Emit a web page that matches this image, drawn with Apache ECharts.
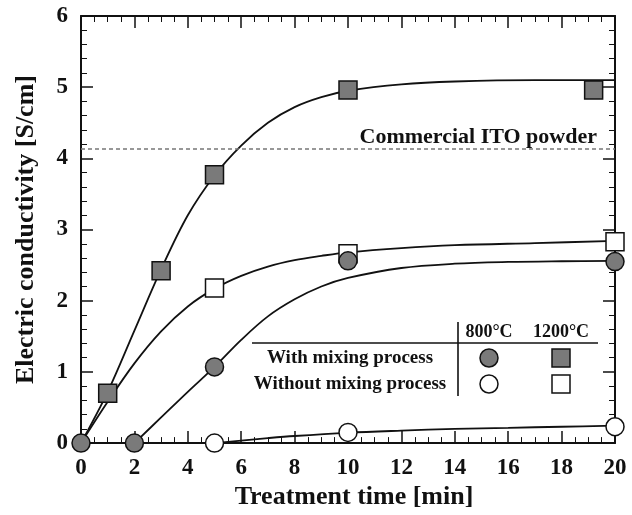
<!DOCTYPE html>
<html>
<head>
<meta charset="utf-8">
<script src="https://cdn.jsdelivr.net/npm/echarts@6/dist/echarts.min.js"></script>
<style>
  html, body { margin: 0; padding: 0; background: #fff; }
  #chart { width: 632px; height: 515px; }
</style>
</head>
<body>
<div id="chart"></div>
<script>
// measured points [time (min), conductivity (S/cm)]
const circ800Mix = [[0, 0], [2, 0], [5, 1.07], [10, 2.56], [20, 2.55]]
const circ800NoMix = [[5, 0], [10, 0.15], [20, 0.23]]
const sq1200Mix = [[1, 0.7], [3, 2.42], [5, 3.77], [10, 4.96], [19.2, 4.96]]
const sq1200NoMix = [[5, 2.18], [10, 2.66], [20, 2.83]]

// fitted curves (flat parts before the rise sit on the x axis)
const fit1200Mix = [[0, 0], [1, 0.72], [2, 1.58], [3, 2.44], [4, 3.2], [5, 3.76], [6, 4.18], [7, 4.5],
  [8, 4.72], [9, 4.86], [10, 4.95], [12, 5.04], [14, 5.08], [17, 5.1], [20, 5.1]]
const fit1200NoMix = [[0, 0], [1, 0.58], [2, 1.12], [3, 1.57], [4, 1.92], [5, 2.17], [6, 2.35], [7, 2.48],
  [8, 2.57], [9, 2.63], [10, 2.68], [12, 2.74], [14, 2.78], [17, 2.81], [20, 2.84]]
const fit800Mix = [[0, 0], [2, 0], [3, 0.36], [4, 0.72], [5, 1.07], [6, 1.45], [7, 1.78], [8, 2.02],
  [9, 2.2], [10, 2.32], [12, 2.46], [14, 2.52], [16, 2.545], [18, 2.555], [20, 2.56]]
const fit800NoMix = [[0, 0], [5, 0], [6, 0.035], [7, 0.07], [8, 0.1], [10, 0.145], [12, 0.175],
  [14, 0.2], [16, 0.215], [18, 0.23], [20, 0.245]]

const itoLevel = 4.13
const itoLabel = 'Commercial ITO powder'
const rowLabels = ['With mixing process', 'Without mixing process']
const colLabels = ['800°C', '1200°C']

const SERIF = '"Liberation Serif", "DejaVu Serif", serif'
const GRAY = '#7a7a7a'
const INK = '#111'

const chart = echarts.init(document.getElementById('chart'))

// split a fitted curve into the flat run on the axis (straight) and the rising part (smoothed)
function curve(data, extra) {
  let k = 0
  while (k + 1 < data.length && data[k + 1][1] === 0) k++
  const out = []
  if (k > 0) {
    out.push({
      type: 'line', data: data.slice(0, k + 1), showSymbol: false, silent: true, z: 2,
      lineStyle: { color: INK, width: 1.8 },
    })
  }
  out.push(Object.assign({
    type: 'line',
    data: data.slice(k),
    smooth: 0.35,
    showSymbol: false,
    silent: true,
    z: 2,
    lineStyle: { color: INK, width: 1.8 },
  }, extra || {}))
  return out
}

function dots(data, symbol, fill) {
  return {
    type: 'scatter',
    data: data,
    symbol: symbol,
    symbolSize: 18,
    clip: false,
    z: 4,
    itemStyle: { color: fill, borderColor: INK, borderWidth: 1.5, opacity: 1 },
  }
}

const axisCommon = {
  min: 0,
  axisLine: { show: true, onZero: false, lineStyle: { color: INK, width: 2 } },
  axisTick: { show: true, inside: true, length: 12, lineStyle: { color: INK, width: 1.5 } },
  minorTick: { show: true, length: 6, lineStyle: { color: INK, width: 1 } },
  splitLine: { show: false },
}

// legend table
const tblLeft = 252, tblRight = 598, tblRule = 343, tblDiv = 458
const colX = [489, 561], rowY = [358, 384], headY = 332
const legendEls = [
  { type: 'line', shape: { x1: tblLeft, y1: tblRule, x2: tblRight, y2: tblRule }, style: { stroke: INK, lineWidth: 1.6 } },
  { type: 'line', shape: { x1: tblDiv, y1: 322, x2: tblDiv, y2: 396 }, style: { stroke: INK, lineWidth: 1.6 } },
]
colLabels.forEach((t, i) => legendEls.push({
  type: 'text', x: colX[i], y: headY,
  style: { text: t, font: 'bold 18px ' + SERIF, fill: INK, align: 'center', verticalAlign: 'middle' },
}))
rowLabels.forEach((t, i) => legendEls.push({
  type: 'text', x: 350, y: rowY[i],
  style: { text: t, font: 'bold 19px ' + SERIF, fill: INK, align: 'center', verticalAlign: 'middle' },
}))
rowY.forEach((y, i) => {
  const fill = i === 0 ? GRAY : '#fff'
  legendEls.push({ type: 'circle', shape: { cx: colX[0], cy: y, r: 9 }, style: { fill: fill, stroke: INK, lineWidth: 1.5 } })
  legendEls.push({ type: 'rect', shape: { x: colX[1] - 9, y: y - 9, width: 18, height: 18 }, style: { fill: fill, stroke: INK, lineWidth: 1.5 } })
})

const option = {
  animation: false,
  backgroundColor: '#fff',
  grid: { left: 81, right: 17, top: 16, bottom: 71 },
  xAxis: [
    Object.assign({}, axisCommon, {
      type: 'value', max: 20, interval: 2, position: 'bottom',
      minorTick: Object.assign({}, axisCommon.minorTick, { splitNumber: 4 }),
      axisLabel: { fontFamily: SERIF, fontWeight: 'bold', fontSize: 23, color: INK, margin: 13 },
      name: 'Treatment time [min]', nameLocation: 'middle', nameGap: 38,
      nameTextStyle: { fontFamily: SERIF, fontWeight: 'bold', fontSize: 26, color: INK, padding: [0, 0, 0, 12] },
    }),
    Object.assign({}, axisCommon, {
      type: 'value', max: 20, interval: 2, position: 'top',
      minorTick: Object.assign({}, axisCommon.minorTick, { splitNumber: 4 }),
      axisLabel: { show: false },
    }),
  ],
  yAxis: [
    Object.assign({}, axisCommon, {
      type: 'value', max: 6, interval: 1, position: 'left',
      minorTick: Object.assign({}, axisCommon.minorTick, { splitNumber: 5 }),
      axisLabel: { fontFamily: SERIF, fontWeight: 'bold', fontSize: 23, color: INK, margin: 13 },
      name: 'Electric conductivity [S/cm]', nameLocation: 'middle', nameGap: 42,
      nameTextStyle: { fontFamily: SERIF, fontWeight: 'bold', fontSize: 26, color: INK },
    }),
    Object.assign({}, axisCommon, {
      type: 'value', max: 6, interval: 1, position: 'right',
      minorTick: Object.assign({}, axisCommon.minorTick, { splitNumber: 5 }),
      axisLabel: { show: false },
    }),
  ],
  graphic: legendEls,
  series: [].concat(
    curve(fit1200Mix, {
      markLine: {
        silent: true,
        symbol: 'none',
        lineStyle: { color: '#777', type: [4, 3], width: 1.5 },
        label: {
          show: true, position: 'insideEndTop', distance: [18, 1],
          formatter: itoLabel,
          fontFamily: SERIF, fontWeight: 'bold', fontSize: 22, color: INK,
        },
        data: [{ yAxis: itoLevel }],
      },
    }),
    curve(fit1200NoMix),
    curve(fit800Mix),
    curve(fit800NoMix),
    [
      dots(sq1200NoMix, 'rect', '#fff'),
      dots(sq1200Mix, 'rect', GRAY),
      dots(circ800NoMix, 'circle', '#fff'),
      dots(circ800Mix, 'circle', GRAY),
    ]
  ),
}

chart.setOption(option)
</script>
</body>
</html>
